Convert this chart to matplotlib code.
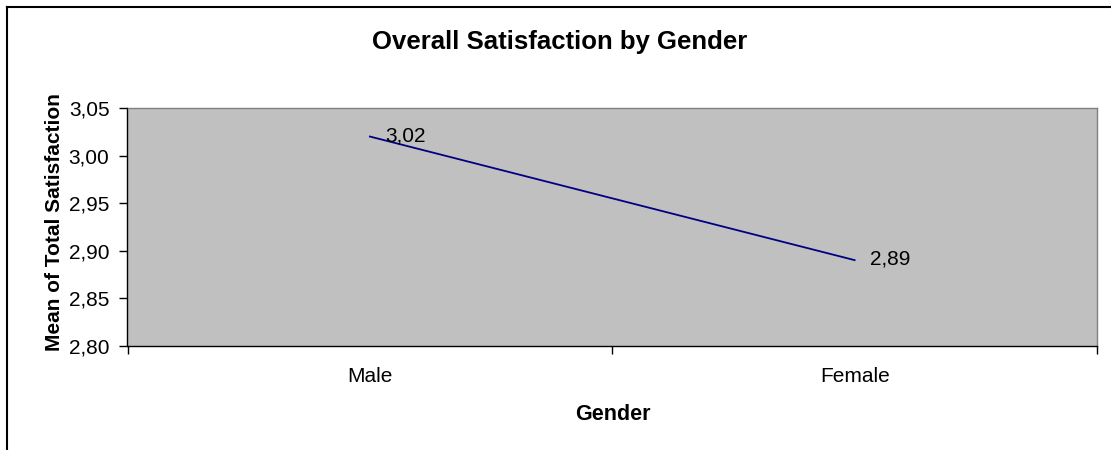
import matplotlib
matplotlib.use("Agg")
import matplotlib.pyplot as plt
from matplotlib.ticker import FuncFormatter
from matplotlib.lines import Line2D
from matplotlib.transforms import blended_transform_factory

categories = ["Male", "Female"]
values = [3.02, 2.89]
value_labels = ["3,02", "2,89"]
yticks = [2.80, 2.85, 2.90, 2.95, 3.00, 3.05]

plt.rcParams['font.family'] = ['Liberation Sans', 'DejaVu Sans']

W, H = 1111, 450
L, R, T, B = 127.5, 1097, 108, 345.7
fig = plt.figure(figsize=(W/100, H/100), dpi=100)
ax = fig.add_axes([L/W, 1-B/H, (R-L)/W, (B-T)/H])
ax.set_facecolor('#C0C0C0')

x = list(range(len(categories)))
ax.plot(x, values, color='#000080', lw=1.3)
for xi, v, lab in zip(x, values, value_labels):
    ax.annotate(lab, (xi, v), xytext=(15, 1), textcoords='offset pixels',
                fontsize=15, va='center', ha='left', color='black')

ax.set_xlim(-0.5, 1.5)
ax.set_ylim(2.80, 3.05)
ax.set_yticks(yticks)
ax.yaxis.set_major_formatter(FuncFormatter(lambda v, p: f"{v:.2f}".replace('.', ',')))
ax.set_xticks([-0.5, 0.5, 1.5])
ax.set_xticklabels([])
ax.tick_params(axis='x', which='major', length=6, width=1, direction='out', color='black')
ax.tick_params(axis='y', length=6, width=1, direction='out', labelsize=15, pad=7)

trans = blended_transform_factory(ax.transData, ax.transAxes)
for xi, c in zip(x, categories):
    ax.text(xi, -(376 - B) / (B - T), c, transform=trans, ha='center', va='center', fontsize=15)

for s in ['left', 'bottom']:
    ax.spines[s].set_color('black')
    ax.spines[s].set_linewidth(1)
for s in ['top', 'right']:
    ax.spines[s].set_color('#808080')
    ax.spines[s].set_linewidth(1)

fig.text(55/W, 1-222.5/H, "Mean of Total Satisfaction", fontsize=15, fontweight='bold',
         rotation=90, ha='center', va='center')
fig.text(613/W, 1-415/H, "Gender", fontsize=15.5, fontweight='bold', ha='center', va='center')
fig.text(560/W, 1-42/H, "Overall Satisfaction by Gender", fontsize=18.5, fontweight='bold',
         ha='center', va='center')

# chart-area border (top and left visible)
fig.add_artist(Line2D([6.5/W, 6.5/W], [0, 1-6.5/H], transform=fig.transFigure, color='black', lw=1.5))
fig.add_artist(Line2D([6.5/W, 1], [1-6.5/H, 1-6.5/H], transform=fig.transFigure, color='black', lw=1.5))

fig.savefig("out.png", dpi=100)
